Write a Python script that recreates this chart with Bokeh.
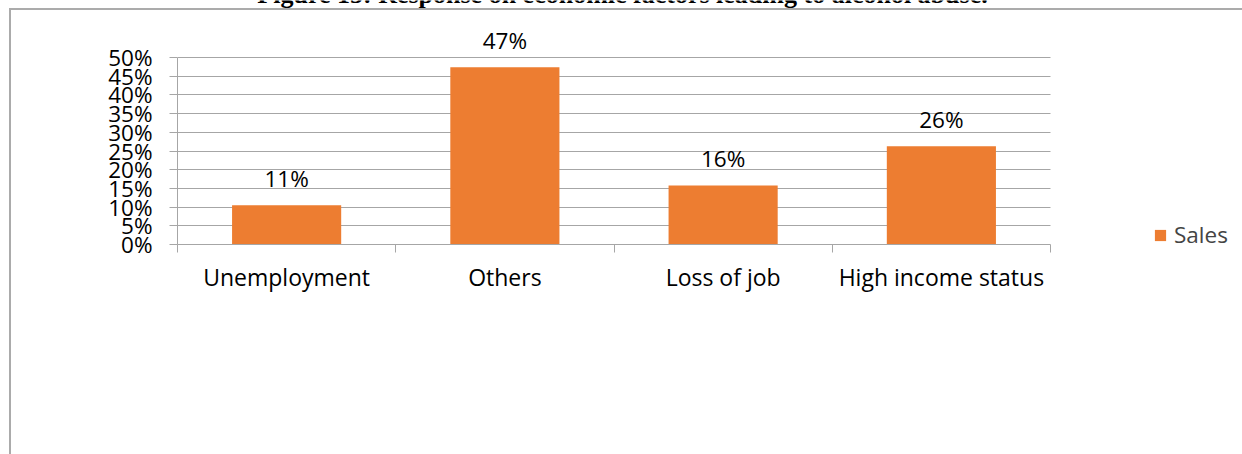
from bokeh.plotting import figure
from bokeh.models import (ColumnDataSource, FixedTicker, NumeralTickFormatter, CustomJSTickFormatter,
                          Range1d, Legend, LegendItem, Label, LabelSet)
from bokeh.core.properties import value
from bokeh.embed import file_html
from bokeh.resources import INLINE

# ---- data ----
categories = ["Unemployment", "Others", "Loss of job", "High income status"]
shares = [0.105, 0.474, 0.158, 0.263]
series_name = "Sales"
y_ticks = [0.0, 0.05, 0.10, 0.15, 0.20, 0.25, 0.30, 0.35, 0.40, 0.45, 0.50]
title_text = "Figure 15: Response on economic factors leading to alcohol abuse."

FONT = "Open Sans"
ORANGE = "#ED7D31"
GRID = "#a6a6a6"

n = len(categories)
pos = [i + 0.5 for i in range(n)]
bounds = [float(i) for i in range(n + 1)]
labels = [f"{int(v * 100 + 0.5)}%" for v in shares]

src = ColumnDataSource(dict(x=pos, top=shares, label=labels, cat=categories))

# frame: x 177..1242 px (categories occupy 177..1050), y 0..244 px (0% at 244, 50% at 57)
px_per_cat = (1050 - 177) / n
x_end = n + (1242 - 1050) / px_per_cat
y_top = 244 / 374.0

p = figure(width=1242, height=454, output_backend="svg", toolbar_location=None,
           x_range=Range1d(0, x_end), y_range=Range1d(0, y_top),
           min_border_left=177, min_border_right=0, min_border_top=0, min_border_bottom=210,
           title=None)
p.outline_line_color = None
p.background_fill_color = None
p.border_fill_color = None
# page frame lines (top and left) drawn as the plot's CSS background
p.styles = {
    "background-color": "white",
    "background-image": "linear-gradient(#ababab, #ababab), linear-gradient(#ababab, #ababab)",
    "background-size": "100% 2px, 2px 100%",
    "background-position": "9px 8px, 9px 8px",
    "background-repeat": "no-repeat",
}

# x axis: labels at centres, tick marks at category boundaries
xa = p.xaxis[0]
xa.ticker = FixedTicker(ticks=pos, minor_ticks=bounds)
xa.bounds = (0, n)
xa.formatter = CustomJSTickFormatter(args=dict(labels=categories), code="return labels[index];")
xa.major_tick_out = 0
xa.major_tick_in = 0
xa.minor_tick_out = 8
xa.minor_tick_in = 0
xa.minor_tick_line_color = GRID
xa.axis_line_color = GRID
xa.major_label_text_font = FONT
xa.major_label_text_font_size = "23px"
xa.major_label_text_color = "black"
xa.major_label_standoff = 8

ya = p.yaxis[0]
yt = FixedTicker(ticks=y_ticks)
ya.ticker = yt
ya.bounds = (y_ticks[0], y_ticks[-1])
ya.formatter = NumeralTickFormatter(format="0%")
ya.major_tick_out = 8
ya.major_tick_in = 0
ya.minor_tick_out = 0
ya.minor_tick_in = 0
ya.major_tick_line_color = GRID
ya.axis_line_color = GRID
ya.major_label_text_font = FONT
ya.major_label_text_font_size = "22.5px"
ya.major_label_text_color = "black"
ya.major_label_standoff = 17

p.xgrid.visible = False
p.ygrid.ticker = yt
p.ygrid.bounds = (y_ticks[0], y_ticks[-1])
p.ygrid.cross_bounds = (0, n)
p.ygrid.grid_line_color = GRID
p.ygrid.grid_line_width = 1

bars = p.vbar(x="x", top="top", width=0.5, source=src, fill_color=ORANGE, line_color=None)

p.add_layout(LabelSet(x="x", y="top", text="label", source=src, text_align="center",
                      text_baseline="middle", y_offset=27, text_font=value(FONT),
                      text_font_size=value("22.5px"), text_color="black"))

legend = Legend(items=[LegendItem(label=series_name, renderers=[bars])],
                location=(976, -6), glyph_width=14, glyph_height=14, label_height=14,
                label_text_font=FONT, label_text_font_size="22.5px", label_standoff=7,
                padding=0, margin=0, spacing=0, border_line_color=None,
                background_fill_alpha=0)
p.add_layout(legend)

# clipped title above the bordered box
p.add_layout(Label(x=445, y=250.5, x_units="screen", y_units="screen", text=title_text,
                   text_align="center", text_baseline="alphabetic",
                   text_font="Liberation Serif", text_font_style="bold",
                   text_font_size="26px", text_color="black"))

open("out.html", "w").write(file_html(p, INLINE))
